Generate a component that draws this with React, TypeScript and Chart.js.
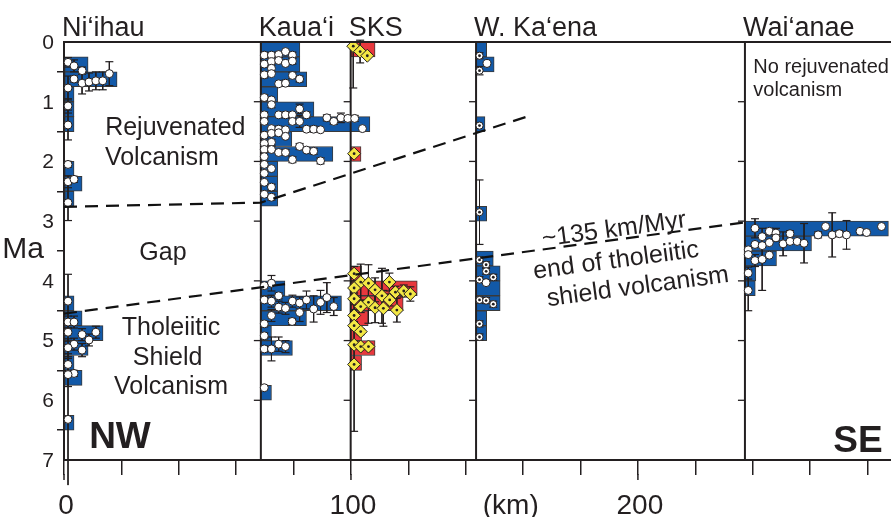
import React, { useEffect, useRef } from 'react';
import { Chart, registerables } from 'chart.js';

Chart.register(...registerables);

// ---------------- DATA ----------------
// columns: name and distance along the chain (km)
const columnNames = ['Ni‘ihau', 'Kaua‘i', 'SKS', 'W. Ka‘ena', 'Wai‘anae'];
const columnKm = [0, 68.6, 99.9, 143.6, 237.3];

// histogram bin size (Ma)
const BIN = 0.25;

// histogram bins: start age (Ma) and bar length (km) for each column
const niihauBinStart = [0.25, 0.5, 0.75, 1.0, 1.25, 2.0, 2.25, 2.5, 4.25, 4.5, 4.75, 5.0, 5.25, 5.5, 6.25];
const niihauBinWidth = [8.4, 18.5, 3.5, 3.5, 3.5, 3.5, 6.3, 3.5, 3.5, 6.3, 13.6, 8.4, 3.5, 6.3, 3.5];

const kauaiBinStart = [0, 0.25, 0.5, 0.75, 1.0, 1.25, 1.5, 1.75, 2.0, 2.25, 2.5, 4.0, 4.25, 4.5, 4.75, 5.0, 5.75];
const kauaiBinWidth = [13.6, 13.6, 16.0, 5.9, 18.5, 38.0, 10.8, 25.1, 5.9, 5.9, 5.9, 8.4, 28.1, 15.9, 3.7, 11.0, 3.7];

const sksBinStart = [0, 1.75, 3.75, 4.0, 4.25, 4.5, 4.75, 5.0, 5.25];
const sksBinWidth = [8.5, 3.6, 3.8, 23.2, 18.3, 6.1, 3.8, 8.5, 3.8];

const kaenaBinStart = [0, 0.25, 1.25, 2.75, 3.5, 3.75, 4.0, 4.25, 4.5, 4.75];
const kaenaBinWidth = [3.7, 6.3, 3.1, 3.7, 6.0, 8.4, 8.4, 8.4, 3.7, 3.7];

const waianaeBinStart = [3.0, 3.25, 3.5, 3.75, 4.0];
const waianaeBinWidth = [50, 23.2, 11.0, 3.8, 3.6];

// individual ages (Ma), stacking offset from column line (km), 1-sigma error (Ma)
const niihauAges = [0.34, 0.40, 0.48, 0.62, 0.69, 0.67, 0.65, 0.65, 0.53, 0.77, 1.07, 1.39, 2.05, 2.34, 2.30, 2.69,
  4.34, 4.69, 4.69, 4.86, 4.90, 4.99, 4.86, 5.06, 5.12, 5.16, 5.40, 5.55, 5.57, 6.32];
const niihauOffsets = [1.4, 3.5, 6.3, 3.5, 6.3, 8.7, 11.1, 13.5, 15.8, 1.4, 1.4, 1.4, 1.4, 1.4, 3.5, 1.4,
  1.4, 1.4, 3.5, 1.4, 6.3, 8.7, 11.1, 3.5, 1.4, 6.3, 1.4, 3.5, 1.4, 1.4];
const niihauErrors = [0.08, 0.1, 0.06, 0.05, 0.18, 0.15, 0.15, 0.15, 0.2, 0.2, 0.12, 0.25, 0.05, 0.1, 0.05, 0.3,
  0.45, 0.1, 0.1, 0.15, 0.1, 0.1, 0.1, 0.1, 0.15, 0.11, 0.1, 0.05, 0.2, 1.1];

const kauaiAges = [0.22, 0.22, 0.21, 0.16, 0.22, 0.37, 0.33, 0.31, 0.36, 0.32, 0.44, 0.55, 0.53, 0.56, 0.62, 0.70, 0.69,
  0.93, 0.97, 1.05, 1.22, 1.22, 1.22, 1.22, 1.12, 1.22, 1.33, 1.45, 1.46, 1.47, 1.33, 1.33, 1.46, 1.46, 1.47, 1.27,
  1.33, 1.27, 1.28, 1.28, 1.45, 1.56, 1.53, 1.52, 1.58, 1.68, 1.70, 1.80, 1.92, 1.80, 1.85, 1.85, 1.97, 1.75, 1.81,
  1.83, 1.99, 2.05, 2.12, 2.20, 2.35, 2.43, 2.55, 2.60,
  4.04, 4.08, 4.32, 4.34, 4.25, 4.44, 4.46, 4.34, 4.37, 4.32, 4.53, 4.47, 4.36, 4.28, 4.43, 4.58, 4.68, 4.72, 4.92,
  5.14, 5.14, 5.06, 5.10, 5.79];
const kauaiOffsets = [1.2, 3.7, 6.2, 8.6, 11.0, 1.2, 3.7, 6.2, 8.6, 11.0, 3.7, 1.2, 3.7, 11.0, 13.5, 6.2, 8.6,
  1.2, 3.7, 3.7, 1.2, 6.2, 8.6, 11.0, 13.5, 15.9, 1.2, 3.7, 6.2, 8.6, 11.0, 13.5, 15.9, 18.4, 20.8, 23.0,
  25.4, 27.9, 30.3, 32.7, 35.4, 1.2, 3.7, 6.2, 8.6, 3.7, 1.2, 1.2, 1.2, 3.7, 6.2, 8.6, 11.0, 13.5, 15.9,
  18.4, 20.8, 1.2, 3.7, 1.2, 1.2, 3.7, 1.2, 3.7,
  3.7, 1.2, 1.2, 3.7, 6.2, 6.2, 8.6, 11.0, 13.5, 15.9, 13.5, 18.4, 20.8, 23.0, 25.4, 3.7, 10.9, 1.2, 1.2,
  1.2, 3.7, 6.2, 8.6, 1.2];
const kauaiErrors = [0.05, 0, 0.05, 0, 0.05, 0.05, 0, 0.05, 0, 0.05, 0.05, 0.05, 0, 0.05, 0.05, 0, 0.05,
  0.05, 0, 0.05, 0.05, 0, 0.05, 0, 0.08, 0.05, 0.05, 0, 0.05, 0, 0.05, 0.1, 0, 0.05, 0, 0.05,
  0.05, 0.08, 0, 0.05, 0, 0.05, 0, 0.05, 0, 0.05, 0, 0.05, 0, 0.05, 0, 0.05, 0.05, 0.05, 0,
  0.05, 0.05, 0.05, 0, 0.05, 0, 0.05, 0, 0.05,
  0.13, 0.05, 0.05, 0.1, 0.05, 0.1, 0.1, 0.1, 0.1, 0.15, 0.15, 0.22, 0.2, 0.25, 0.15, 0.1, 0.05, 0.05, 0.05,
  0.05, 0.2, 0.12, 0.1, 0];

const sksAges = [0.07, 0.16, 0.23, 1.87, 3.88, 4.02, 4.04, 4.02, 4.15, 4.25, 4.19, 4.17, 4.22, 4.36, 4.43, 4.45,
  4.46, 4.32, 4.49, 4.12, 4.30, 4.58, 4.75, 4.85, 5.07, 5.10, 5.10, 5.40];
const sksOffsets = [0.9, 3.3, 5.8, 1.2, 1.2, 3.5, 6.2, 13.5, 8.5, 10.9, 15.6, 18.5, 20.8, 6.2, 3.5, 8.5,
  11.4, 13.6, 16.1, 1.2, 1.2, 1.2, 1.2, 3.5, 1.2, 3.5, 6.2, 1.2];
const sksErrors: (number | number[])[] = [[0.07, 0.7], 0.19, 0, 0, 0.12, 0.3, 0.31, 0.15, 0.2, 0.46, 0.1, 0.1, 0.12, 0.35, 0.1, 0.25,
  0.3, 0.1, 0.2, 0.1, 0.1, 0.1, 0.05, 0.05, 0.05, 0.05, 0.05, 1.12];

const kaenaAges = [0.23, 0.48, 1.40, 2.85, 3.65, 3.73, 3.84, 3.94, 3.98, 4.32, 4.33, 4.39, 4.72, 4.94];
const kaenaOffsets = [1.2, 1.2, 1.2, 1.2, 1.2, 3.5, 3.5, 6.0, 1.2, 1.2, 3.5, 6.0, 1.2, 1.2];
const kaenaErrors = [0.05, 0.07, 0, 0.54, 0.05, 0.05, 0.05, 0.05, 0.05, 0.05, 0.05, 0.05, 0.05, 0.05];
const kaenaPlainAges = [0.36, 4.03];
const kaenaPlainOffsets = [3.8, 3.5];

const waianaeAges = [3.12, 3.26, 3.17, 3.20, 3.28, 3.21, 3.23, 3.09, 3.23, 3.21, 3.23, 3.17, 3.19, 3.09,
  3.48, 3.39, 3.41, 3.36, 3.38, 3.34, 3.34, 3.37, 3.56, 3.66, 3.64, 3.57, 3.87, 4.16];
const waianaeOffsets = [3.5, 6.0, 8.5, 10.8, 10.8, 15.7, 25.5, 28.1, 30.4, 32.9, 35.4, 40.1, 42.4, 47.6,
  1.15, 3.5, 6.0, 8.5, 13.3, 15.7, 18.2, 20.6, 1.15, 3.5, 6.0, 8.5, 1.15, 1.15];
const waianaeErrors = [0.16, 0, 0.05, 0.08, 0.05, 0.05, 0.05, 0, 0.37, 0.05, 0.24, 0, 0, 0,
  0, 0, 0, 0, 0.2, 0, 0, 0.33, 0, 0.1, 0.52, 0, 0.1, 0.34];

// age-progression lines (km, Ma)
const rejuvLineKm = [0, 68.6, 161.3];
const rejuvLineMa = [2.76, 2.69, 1.25];
const shieldLineKm = [0, 237.3];
const shieldLineMa = [4.55, 3.02];

// axes
const xMaxKm = 288.2;
const xStepKm = 20;
const xLabelValues = [0, 100, 200];
const xTitle = '(km)';
const xTitleKm = 155.7;
const yTitle = 'Ma';

// ---------------- STYLE ----------------
const FONT = '"Liberation Sans", Arial, Helvetica, sans-serif';
const INK = '#231f20';
const BLUE = '#1259a8';
const RED = '#e8383d';
const YELLOW = '#f3e744';
const BAR_EDGE = '#3a3a3a';

// annotation texts, anchored in data coordinates (km, Ma)
const notes = [
  { text: 'Rejuvenated', km: 38.8, ma: 1.55 },
  { text: 'Volcanism', km: 34.1, ma: 2.06 },
  { text: 'Gap', km: 34.5, ma: 3.65 },
  { text: 'Tholeiitic', km: 37.3, ma: 4.91 },
  { text: 'Shield', km: 36.1, ma: 5.41 },
  { text: 'Volcanism', km: 37.3, ma: 5.89 },
];
const slopeNotes = [
  { text: '~135 km/Myr', km: 192.0, ma: 3.26 },
  { text: 'end of tholeiitic', km: 192.7, ma: 3.78 },
  { text: 'shield volcanism', km: 200.3, ma: 4.22 },
];

function bars(starts: number[], widths: number[], base: number) {
  return starts.map((s, i) => ({ y: s + BIN / 2, x: [base, base + widths[i]] }));
}
function pts(ages: number[], offs: number[], base: number) {
  return ages.map((a, i) => ({ x: base + offs[i], y: a }));
}
function errs(ages: number[], offs: number[], es: (number | number[])[], base: number) {
  const out: any[] = [];
  ages.forEach((a, i) => {
    const e = es[i];
    const [m, p] = Array.isArray(e) ? e : [e, e];
    if (!m && !p) return;
    const x = base + offs[i];
    out.push({ x, y: a - m }, { x, y: a + p }, { x, y: null });
  });
  return out;
}

const overlay = {
  id: 'overlay',
  afterDatasetsDraw(chart: any) {
    const { ctx, chartArea: a, scales } = chart;
    const xs = scales.x;
    const ys = scales.y;
    ctx.save();
    ctx.strokeStyle = INK;
    ctx.fillStyle = INK;
    // top frame
    ctx.lineWidth = 2;
    ctx.beginPath();
    ctx.moveTo(a.left, a.top);
    ctx.lineTo(a.right, a.top);
    ctx.stroke();
    // small ticks on each column line
    ctx.lineWidth = 1.3;
    columnKm.slice(1).forEach((km) => {
      const px = xs.getPixelForValue(km);
      ys.ticks.forEach((t: any) => {
        const py = ys.getPixelForValue(t.value);
        ctx.beginPath();
        ctx.moveTo(px - 7, py);
        ctx.lineTo(px, py);
        ctx.stroke();
      });
    });
    // longer major x ticks
    ctx.lineWidth = 1.5;
    xLabelValues.forEach((v) => {
      const px = xs.getPixelForValue(v);
      ctx.beginPath();
      ctx.moveTo(px, a.bottom + 14);
      ctx.lineTo(px, a.bottom + 20);
      ctx.stroke();
    });
    // y tick labels
    ctx.font = `21px ${FONT}`;
    ctx.textAlign = 'right';
    ctx.textBaseline = 'middle';
    ys.ticks.forEach((t: any) => {
      ctx.fillText(String(t.value), a.left - 10, ys.getPixelForValue(t.value) + 1);
    });
    ctx.font = `30px ${FONT}`;
    ctx.textAlign = 'center';
    ctx.fillText(yTitle, a.left - 41, (a.top + a.bottom) / 2 - 1);
    // x tick labels
    ctx.font = `28px ${FONT}`;
    ctx.textBaseline = 'alphabetic';
    xLabelValues.forEach((v) => ctx.fillText(String(v), xs.getPixelForValue(v) + 2, a.bottom + 54));
    ctx.fillText(xTitle, xs.getPixelForValue(xTitleKm), a.bottom + 54);
    // column titles
    ctx.font = `27px ${FONT}`;
    ctx.textAlign = 'left';
    columnNames.forEach((n, i) => ctx.fillText(n, xs.getPixelForValue(columnKm[i]) - 2, a.top - 6));
    // notes
    ctx.font = `25px ${FONT}`;
    ctx.textAlign = 'center';
    notes.forEach((n) => ctx.fillText(n.text, xs.getPixelForValue(n.km), ys.getPixelForValue(n.ma)));
    ctx.font = `bold 37px ${FONT}`;
    ctx.fillText('NW', xs.getPixelForValue(19.5), ys.getPixelForValue(6.8));
    ctx.fillText('SE', xs.getPixelForValue(276.7), ys.getPixelForValue(6.86));
    ctx.font = `20px ${FONT}`;
    ctx.textAlign = 'left';
    ctx.fillText('No rejuvenated', xs.getPixelForValue(240.2), ys.getPixelForValue(0.52));
    ctx.fillText('volcanism', xs.getPixelForValue(240.2), ys.getPixelForValue(0.91));
    // rotated notes along the shield line
    const x1 = xs.getPixelForValue(shieldLineKm[0]);
    const y1 = ys.getPixelForValue(shieldLineMa[0]);
    const x2 = xs.getPixelForValue(shieldLineKm[1]);
    const y2 = ys.getPixelForValue(shieldLineMa[1]);
    const ang = Math.atan2(y2 - y1, x2 - x1);
    ctx.font = `25px ${FONT}`;
    ctx.textAlign = 'center';
    slopeNotes.forEach((n) => {
      ctx.save();
      ctx.translate(xs.getPixelForValue(n.km), ys.getPixelForValue(n.ma));
      ctx.rotate(ang);
      ctx.fillText(n.text, 0, 0);
      ctx.restore();
    });
    ctx.restore();
  },
};

export default function App() {
  const ref = useRef<HTMLCanvasElement>(null);
  useEffect(() => {
    if (!ref.current) return;
    const [kNi, kKa, kSk, kWk, kWa] = columnKm;
    const blueBars = [
      ...bars(niihauBinStart, niihauBinWidth, kNi),
      ...bars(kauaiBinStart, kauaiBinWidth, kKa),
      ...bars(kaenaBinStart, kaenaBinWidth, kWk),
      ...bars(waianaeBinStart, waianaeBinWidth, kWa),
    ];
    const redBars = bars(sksBinStart, sksBinWidth, kSk);
    const circles = [
      ...pts(niihauAges, niihauOffsets, kNi),
      ...pts(kauaiAges, kauaiOffsets, kKa),
      ...pts(kaenaPlainAges, kaenaPlainOffsets, kWk),
      ...pts(waianaeAges, waianaeOffsets, kWa),
    ];
    const bullseye = pts(kaenaAges, kaenaOffsets, kWk);
    const diamonds = pts(sksAges, sksOffsets, kSk);
    const errorBars = [
      ...errs(niihauAges, niihauOffsets, niihauErrors, kNi),
      ...errs(kauaiAges, kauaiOffsets, kauaiErrors, kKa),
      ...errs(sksAges, sksOffsets, sksErrors, kSk),
      ...errs(kaenaAges, kaenaOffsets, kaenaErrors, kWk),
      ...errs(waianaeAges, waianaeOffsets, waianaeErrors, kWa),
    ];
    const colLines: any[] = [];
    columnKm.slice(1).forEach((km) => colLines.push({ x: km, y: 0 }, { x: km, y: 7 }, { x: km, y: null }));

    const barCommon = {
      type: 'bar' as const,
      indexAxis: 'y' as const,
      grouped: false,
      categoryPercentage: 1,
      barPercentage: 1,
      borderWidth: 1,
      borderColor: BAR_EDGE,
      borderSkipped: false,
      order: 10,
    };

    const chart = new Chart(ref.current, {
      type: 'scatter',
      data: {
        datasets: [
          { ...barCommon, data: blueBars as any, backgroundColor: BLUE },
          { ...barCommon, data: redBars as any, backgroundColor: RED },
          {
            type: 'line', data: colLines, borderColor: INK, borderWidth: 2, pointRadius: 0,
            spanGaps: false, order: 9,
          } as any,
          {
            type: 'line', data: errorBars, borderColor: INK, borderWidth: 1, pointStyle: 'line',
            pointRadius: 4, pointBorderWidth: 1.2, pointBorderColor: INK, spanGaps: false, clip: false, order: 8,
          } as any,
          {
            type: 'scatter', data: circles, pointStyle: 'circle', pointRadius: 4, pointBorderWidth: 1,
            pointBorderColor: INK, pointBackgroundColor: '#ffffff', order: 5,
          } as any,
          {
            type: 'scatter', data: bullseye, pointStyle: 'circle', pointRadius: 3.6, pointBorderWidth: 1,
            pointBorderColor: INK, pointBackgroundColor: '#ffffff', order: 5,
          } as any,
          {
            type: 'scatter', data: bullseye, pointStyle: 'circle', pointRadius: 1.4, pointBorderWidth: 0,
            pointBackgroundColor: INK, order: 4,
          } as any,
          {
            type: 'scatter', data: diamonds, pointStyle: 'rectRot', pointRadius: 6.5, pointBorderWidth: 1,
            pointBorderColor: INK, pointBackgroundColor: YELLOW, order: 5,
          } as any,
          {
            type: 'scatter', data: diamonds, pointStyle: 'circle', pointRadius: 1.4, pointBorderWidth: 0,
            pointBackgroundColor: INK, order: 4,
          } as any,
          {
            type: 'line', data: rejuvLineKm.map((k, i) => ({ x: k, y: rejuvLineMa[i] })), borderColor: '#111',
            borderWidth: 2.2, borderDash: [13, 8], pointRadius: 0, order: 1,
          } as any,
          {
            type: 'line', data: shieldLineKm.map((k, i) => ({ x: k, y: shieldLineMa[i] })), borderColor: '#111',
            borderWidth: 2.2, borderDash: [13, 8], pointRadius: 0, order: 1,
          } as any,
        ],
      },
      options: {
        responsive: false,
        animation: false,
        events: [],
        layout: { autoPadding: false, padding: { top: 42, left: 0, right: 0, bottom: 0 } },
        plugins: { legend: { display: false }, tooltip: { enabled: false }, title: { display: false } },
        scales: {
          x: {
            type: 'linear',
            min: 0,
            max: xMaxKm,
            offset: false,
            afterFit: (s: any) => { s.height = 57; },
            ticks: { display: false, stepSize: xStepKm, includeBounds: false },
            grid: { drawOnChartArea: false, drawTicks: true, tickLength: 15, color: INK, lineWidth: 1.5 },
            border: { display: true, width: 2, color: INK },
          },
          y: {
            type: 'linear',
            min: 0,
            max: 7,
            reverse: true,
            offset: false,
            afterFit: (s: any) => { s.width = 64; },
            ticks: { display: false, stepSize: 1 },
            grid: { drawOnChartArea: false, drawTicks: true, tickLength: 7, color: INK, lineWidth: 1.5 },
            border: { display: true, width: 2, color: INK },
          },
        },
      } as any,
      plugins: [overlay],
    });
    return () => chart.destroy();
  }, []);

  return (
    <div style={{ position: 'absolute', left: 0, top: 0, width: 891, height: 517, background: '#fff' }}>
      <canvas ref={ref} width={891} height={517} />
    </div>
  );
}
